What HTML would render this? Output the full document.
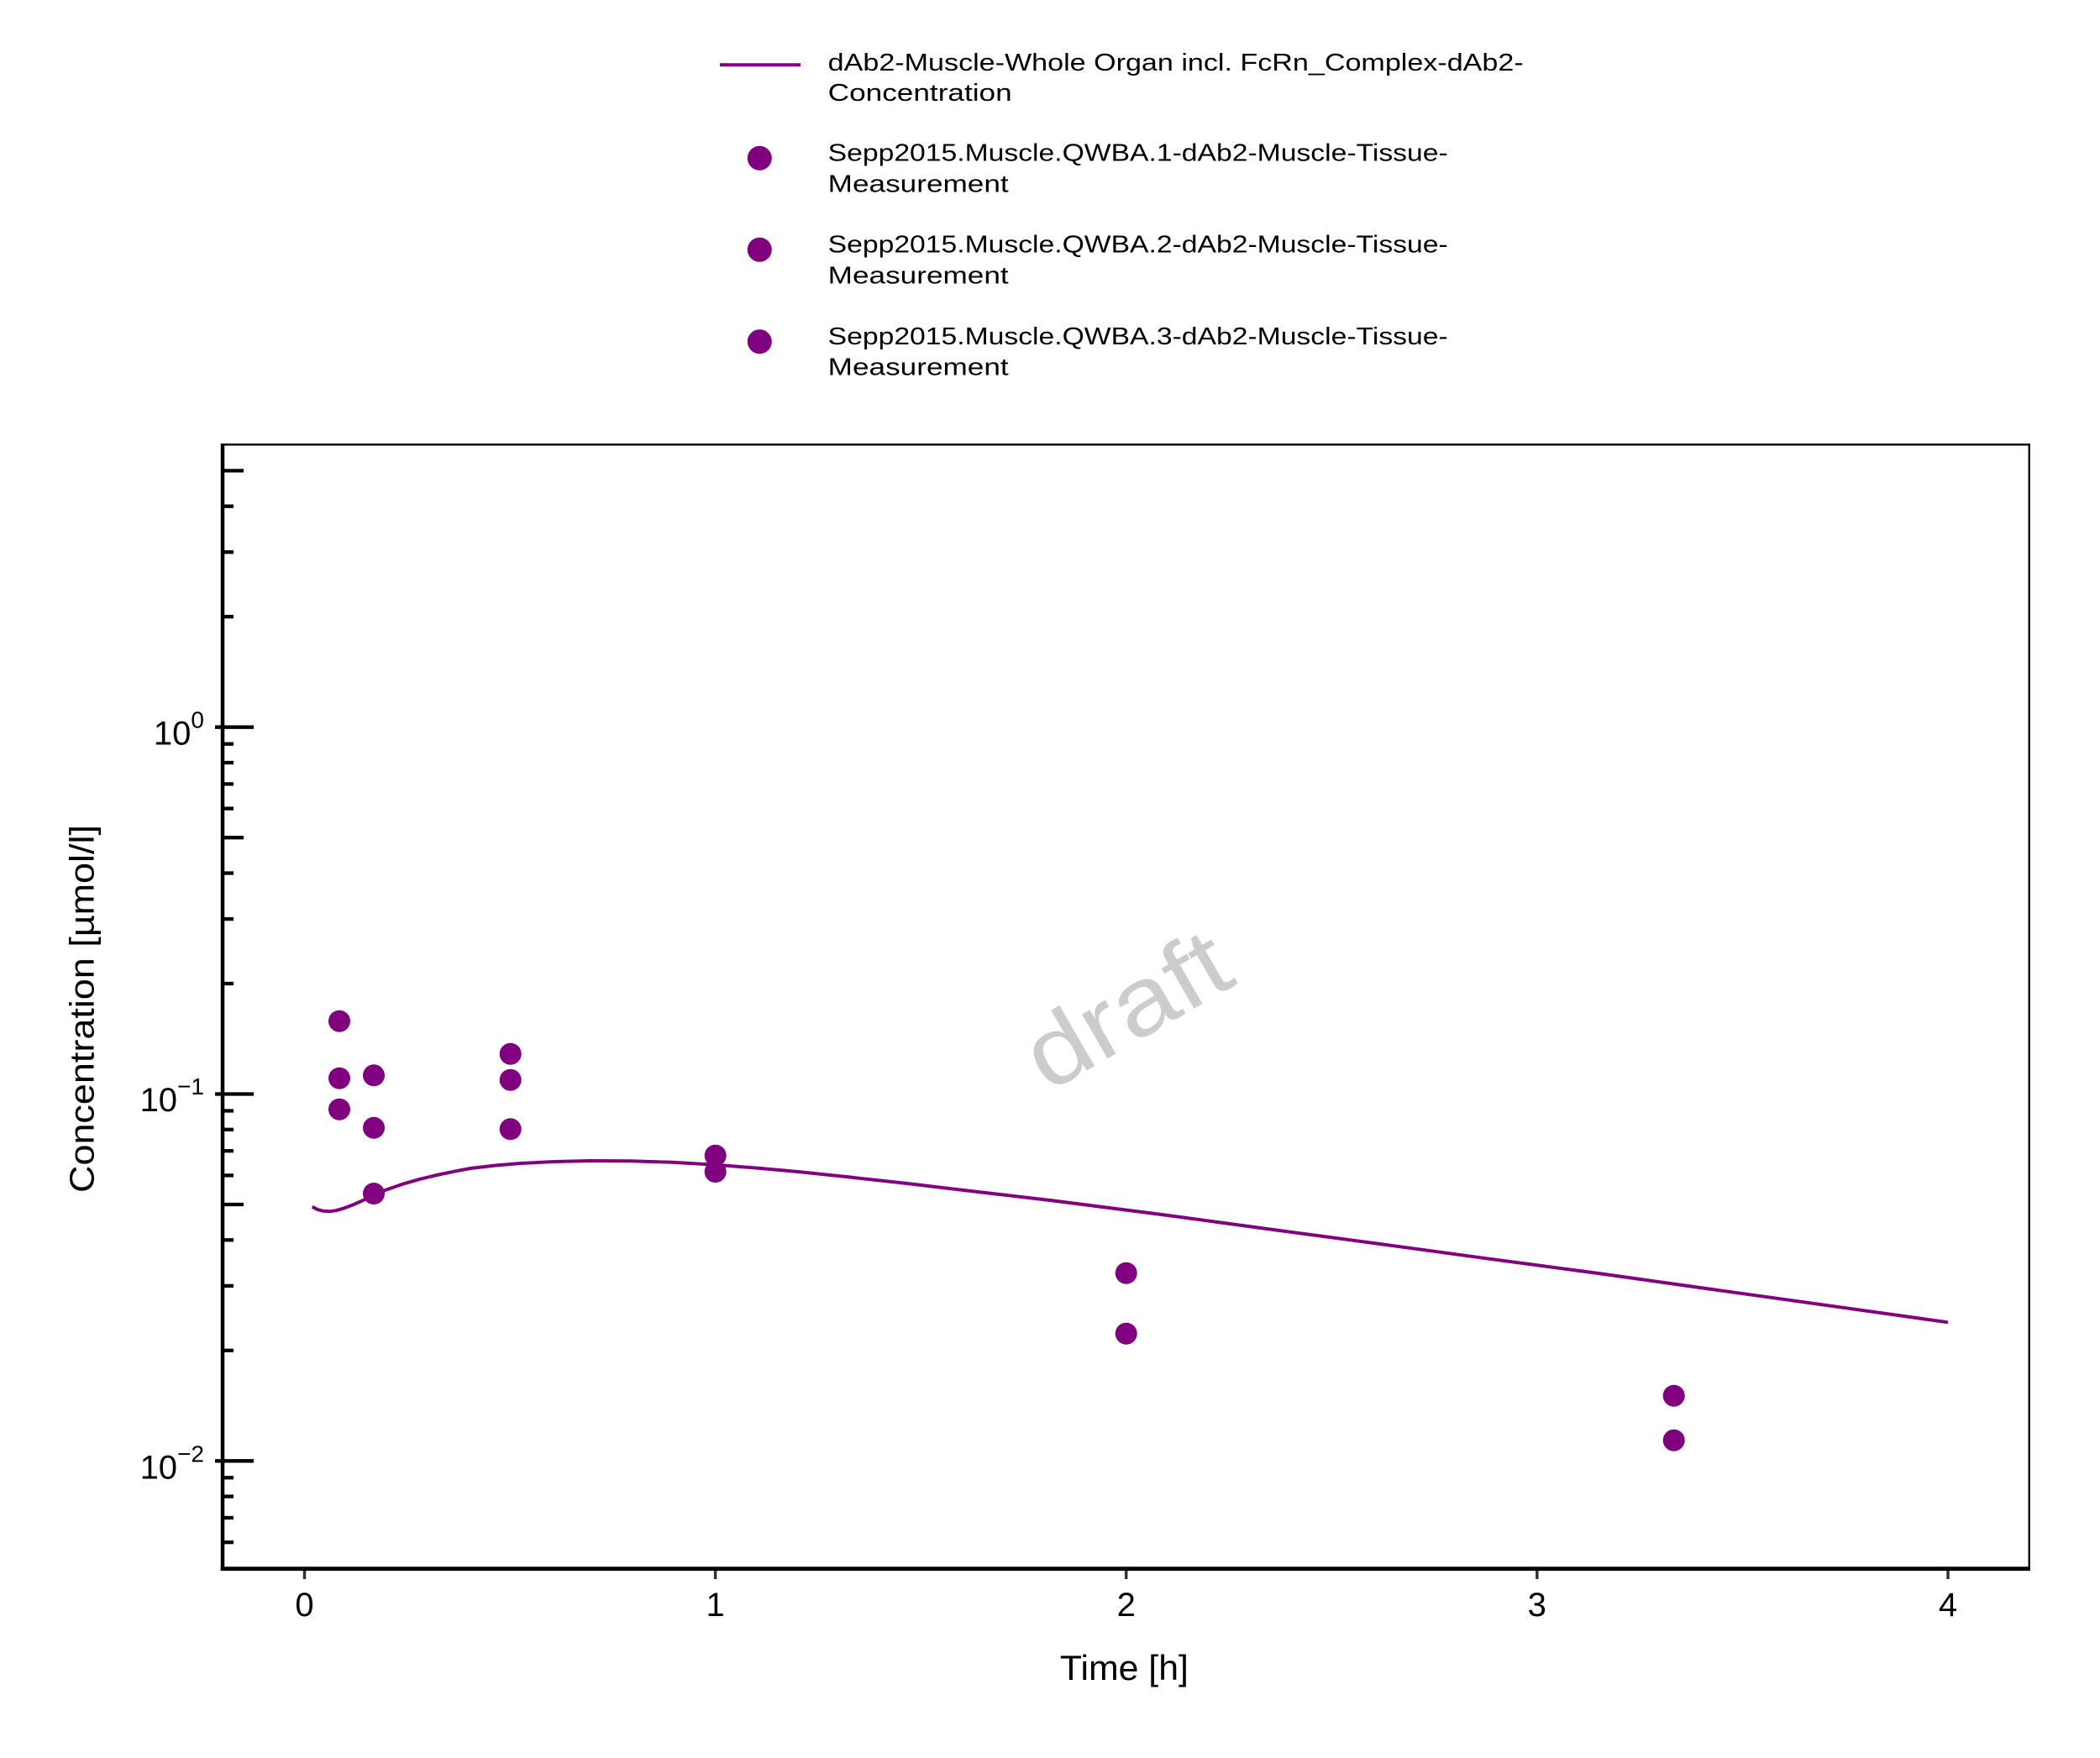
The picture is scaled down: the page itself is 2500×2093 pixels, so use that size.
<!DOCTYPE html>
<html>
<head>
<meta charset="utf-8">
<style>
html,body{margin:0;padding:0;background:#fff;}
svg{display:block;}
text{font-family:"Liberation Sans","DejaVu Sans",sans-serif;fill:#000;}
</style>
</head>
<body>
<svg width="2500" height="2093" viewBox="0 0 2500 2093" xmlns="http://www.w3.org/2000/svg">
<rect x="0" y="0" width="2500" height="2093" fill="#fff"/>

<!-- Legend -->
<line x1="857" y1="77.3" x2="953" y2="77.3" stroke="#800080" stroke-width="4"/>
<text x="985.7" y="84" font-size="29" textLength="828" lengthAdjust="spacingAndGlyphs">dAb2-Muscle-Whole Organ incl. FcRn_Complex-dAb2-</text>
<text x="985.7" y="120" font-size="29" textLength="219" lengthAdjust="spacingAndGlyphs">Concentration</text>

<circle cx="904.3" cy="188.3" r="14.5" fill="#800080"/>
<text x="985.7" y="191.7" font-size="29" textLength="738" lengthAdjust="spacingAndGlyphs">Sepp2015.Muscle.QWBA.1-dAb2-Muscle-Tissue-</text>
<text x="985.7" y="228.3" font-size="29" textLength="215" lengthAdjust="spacingAndGlyphs">Measurement</text>

<circle cx="904.3" cy="297.3" r="14.5" fill="#800080"/>
<text x="985.7" y="300.7" font-size="29" textLength="738" lengthAdjust="spacingAndGlyphs">Sepp2015.Muscle.QWBA.2-dAb2-Muscle-Tissue-</text>
<text x="985.7" y="337.3" font-size="29" textLength="215" lengthAdjust="spacingAndGlyphs">Measurement</text>

<circle cx="904.3" cy="406.7" r="14.5" fill="#800080"/>
<text x="985.7" y="410" font-size="29" textLength="738" lengthAdjust="spacingAndGlyphs">Sepp2015.Muscle.QWBA.3-dAb2-Muscle-Tissue-</text>
<text x="985.7" y="446.7" font-size="29" textLength="215" lengthAdjust="spacingAndGlyphs">Measurement</text>

<!-- Watermark -->
<g transform="translate(1341,1201) rotate(-30)">
<text x="0" y="40" font-size="115" text-anchor="middle" textLength="262" lengthAdjust="spacingAndGlyphs" style="fill:#cccccc">draft</text>
</g>

<!-- Frame: top and right thin -->
<line x1="263" y1="529.3" x2="2416.8" y2="529.3" stroke="#000" stroke-width="2.3"/>
<line x1="2415.7" y1="528.2" x2="2415.7" y2="1869" stroke="#000" stroke-width="2.3"/>

<!-- Y axis ticks -->
<g stroke="#000" stroke-width="4.3">
<line x1="256" y1="865.7" x2="302" y2="865.7"/>
<line x1="256" y1="1302.5" x2="302" y2="1302.5"/>
<line x1="256" y1="1739.3" x2="302" y2="1739.3"/>
<line x1="265" y1="560.4" x2="290" y2="560.4"/>
<line x1="265" y1="997.2" x2="290" y2="997.2"/>
<line x1="265" y1="1434" x2="290" y2="1434"/>
<line x1="265" y1="734.2" x2="278" y2="734.2"/>
<line x1="265" y1="657.3" x2="278" y2="657.3"/>
<line x1="265" y1="602.7" x2="278" y2="602.7"/>
<line x1="265" y1="1171.0" x2="278" y2="1171.0"/>
<line x1="265" y1="1094.1" x2="278" y2="1094.1"/>
<line x1="265" y1="1039.5" x2="278" y2="1039.5"/>
<line x1="265" y1="962.6" x2="278" y2="962.6"/>
<line x1="265" y1="933.4" x2="278" y2="933.4"/>
<line x1="265" y1="908.0" x2="278" y2="908.0"/>
<line x1="265" y1="885.7" x2="278" y2="885.7"/>
<line x1="265" y1="1607.8" x2="278" y2="1607.8"/>
<line x1="265" y1="1530.9" x2="278" y2="1530.9"/>
<line x1="265" y1="1476.3" x2="278" y2="1476.3"/>
<line x1="265" y1="1399.4" x2="278" y2="1399.4"/>
<line x1="265" y1="1370.2" x2="278" y2="1370.2"/>
<line x1="265" y1="1344.8" x2="278" y2="1344.8"/>
<line x1="265" y1="1322.5" x2="278" y2="1322.5"/>
<line x1="265" y1="1759.3" x2="278" y2="1759.3"/>
<line x1="265" y1="1781.6" x2="278" y2="1781.6"/>
<line x1="265" y1="1807.0" x2="278" y2="1807.0"/>
<line x1="265" y1="1836.2" x2="278" y2="1836.2"/>
</g>

<!-- X axis ticks -->
<g stroke="#333" stroke-width="3.5">
<line x1="362.5" y1="1867" x2="362.5" y2="1880"/>
<line x1="851.6" y1="1867" x2="851.6" y2="1880"/>
<line x1="1340.7" y1="1867" x2="1340.7" y2="1880"/>
<line x1="1829.8" y1="1867" x2="1829.8" y2="1880"/>
<line x1="2319" y1="1867" x2="2319" y2="1880"/>
</g>

<!-- Axes (left and bottom thick) -->
<line x1="265" y1="528.2" x2="265" y2="1870" stroke="#000" stroke-width="4.5"/>
<line x1="262.8" y1="1867.7" x2="2416.8" y2="1867.7" stroke="#000" stroke-width="4.8"/>

<!-- Y tick labels -->
<text x="243" y="886.7" font-size="40" text-anchor="end">10<tspan dy="-20" font-size="28">0</tspan></text>
<text x="243" y="1323" font-size="40" text-anchor="end">10<tspan dy="-20" font-size="28">−1</tspan></text>
<text x="243" y="1760.7" font-size="40" text-anchor="end">10<tspan dy="-20" font-size="28">−2</tspan></text>

<!-- X tick labels -->
<text x="362.5" y="1924" font-size="40" text-anchor="middle">0</text>
<text x="851.6" y="1924" font-size="40" text-anchor="middle">1</text>
<text x="1340.7" y="1924" font-size="40" text-anchor="middle">2</text>
<text x="1829.8" y="1924" font-size="40" text-anchor="middle">3</text>
<text x="2319" y="1924" font-size="40" text-anchor="middle">4</text>

<!-- Axis labels -->
<text x="1338.4" y="2000" font-size="42" text-anchor="middle" textLength="153" lengthAdjust="spacingAndGlyphs">Time [h]</text>
<g transform="translate(111.7,1201) rotate(-90)">
<text x="0" y="0" font-size="41" text-anchor="middle" textLength="438" lengthAdjust="spacingAndGlyphs">Concentration [µmol/l]</text>
</g>

<!-- Simulation curve -->
<polyline fill="none" stroke="#800080" stroke-width="4" stroke-linejoin="round" stroke-linecap="butt"
points="371.7,1436.7 378,1440 385,1441.8 392,1442.3 400,1441.2 410,1438.3 420,1434.5 432,1429.2 445,1422.3 460,1416.5 480,1409.5 500,1403.8 520,1399 540,1394.8 560,1391 590,1387.5 620,1385 660,1383 703,1382 750,1382.2 800,1383.8 851.7,1386.7 900,1390.5 950,1395 1010,1401.3 1080,1409 1160,1418.5 1250,1429 1380,1445.6 1500,1461.9 1640,1480.6 1770,1498.3 1900,1515.6 2050,1536.7 2190,1556.2 2319,1574.3"/>

<!-- Observed data -->
<g fill="#800080">
<circle cx="404" cy="1215.7" r="13"/>
<circle cx="404" cy="1283.7" r="13"/>
<circle cx="404" cy="1320.7" r="13"/>
<circle cx="445" cy="1280.3" r="13"/>
<circle cx="445" cy="1342.7" r="13"/>
<circle cx="445" cy="1421" r="13"/>
<circle cx="607.7" cy="1254.7" r="13"/>
<circle cx="607.7" cy="1285.7" r="13"/>
<circle cx="607.7" cy="1344.3" r="13"/>
<circle cx="851.7" cy="1375.7" r="13"/>
<circle cx="851.7" cy="1395" r="13"/>
<circle cx="1340.7" cy="1515.7" r="13"/>
<circle cx="1340.7" cy="1587.7" r="13"/>
<circle cx="1992.7" cy="1661.7" r="13"/>
<circle cx="1992.7" cy="1714.7" r="13"/>
</g>
</svg>
</body>
</html>
